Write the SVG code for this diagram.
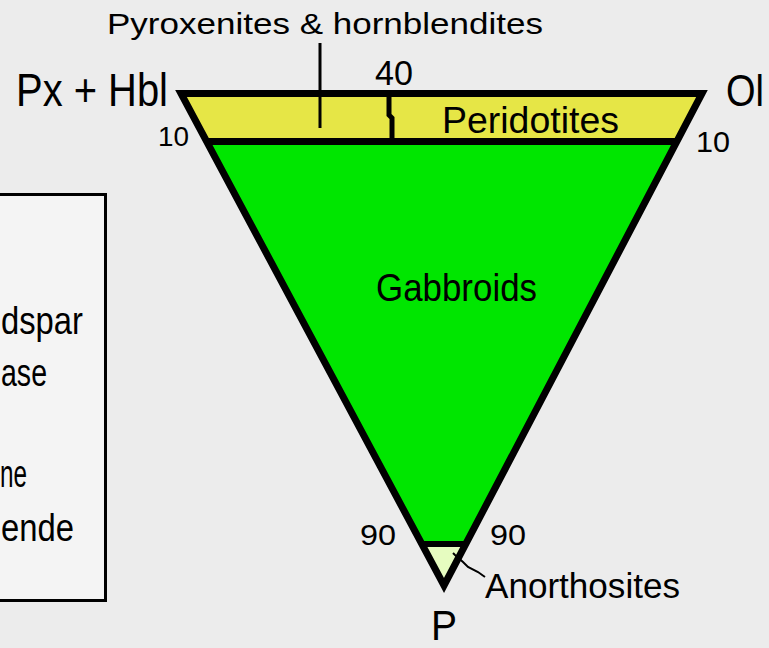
<svg xmlns="http://www.w3.org/2000/svg" width="769" height="648" viewBox="0 0 769 648">
<style>
  text { font-family: "Liberation Sans", Arial, sans-serif; fill: #000; }
  .edge { fill: none; stroke: #000; stroke-width: 7; stroke-linejoin: miter; }
  .div { stroke: #000; fill: none; }
  .leg { font-size: 38px; }
</style>
<rect x="0" y="0" width="769" height="648" fill="#ececec"/>

<g id="legend">
  <rect x="-10" y="194.5" width="115.5" height="406" fill="#f4f4f4" stroke="#000" stroke-width="3"/>
  <text class="leg" x="1" y="334" textLength="82" lengthAdjust="spacingAndGlyphs">dspar</text>
  <text class="leg" x="1" y="386" textLength="46" lengthAdjust="spacingAndGlyphs">ase</text>
  <text class="leg" x="0" y="487" textLength="27" lengthAdjust="spacingAndGlyphs">ne</text>
  <text class="leg" x="1" y="541" textLength="73" lengthAdjust="spacingAndGlyphs">ende</text>
</g>

<g id="peridotites-field">
  <polygon points="181,93.5 702,93.5 676.8,141.5 206.7,141.5" fill="#e6e646"/>
  <text x="442" y="133" font-size="37" textLength="177" lengthAdjust="spacingAndGlyphs">Peridotites</text>
</g>
<g id="gabbroids-field">
  <polygon points="206.7,141.5 676.8,141.5 465.8,544 421.8,544" fill="#00e600"/>
  <text x="376" y="301" font-size="38" textLength="161" lengthAdjust="spacingAndGlyphs">Gabbroids</text>
</g>
<g id="anorthosites-field">
  <polygon points="421.8,544 465.8,544 444,585.5" fill="#e6fcc0"/>
</g>

<g id="connectors">
  <line x1="206.7" y1="141.5" x2="676.8" y2="141.5" class="div" stroke-width="7"/>
  <line x1="421.8" y1="544" x2="465.8" y2="544" class="div" stroke-width="6"/>
  <polyline points="389,94 389,115 392,118 392,141" class="div" stroke-width="5"/>
  <line x1="320" y1="43" x2="320" y2="128" class="div" stroke-width="3"/>
  <polyline points="453,553 455,555 463,562 468,567 478,572 485,577" class="div" stroke-width="2"/>
  <polygon points="181,93.5 702,93.5 444,585.5" class="edge"/>
</g>

<g id="labels">
  <text x="107" y="34" font-size="30" textLength="436" lengthAdjust="spacingAndGlyphs">Pyroxenites &amp; hornblendites</text>
  <text x="16" y="106" font-size="46" textLength="152" lengthAdjust="spacingAndGlyphs">Px + Hbl</text>
  <text x="726" y="106" font-size="44" textLength="38" lengthAdjust="spacingAndGlyphs">Ol</text>
  <text x="375" y="85" font-size="35" textLength="38" lengthAdjust="spacingAndGlyphs">40</text>
  <text x="158" y="146" font-size="28" textLength="31" lengthAdjust="spacingAndGlyphs">10</text>
  <text x="696" y="152" font-size="30" textLength="34" lengthAdjust="spacingAndGlyphs">10</text>
  <text x="360" y="545" font-size="30" textLength="36" lengthAdjust="spacingAndGlyphs">90</text>
  <text x="490" y="545" font-size="30" textLength="36" lengthAdjust="spacingAndGlyphs">90</text>
  <text x="485" y="598" font-size="35" textLength="195" lengthAdjust="spacingAndGlyphs">Anorthosites</text>
  <text x="431" y="640" font-size="42" textLength="26" lengthAdjust="spacingAndGlyphs">P</text>
</g>
</svg>
